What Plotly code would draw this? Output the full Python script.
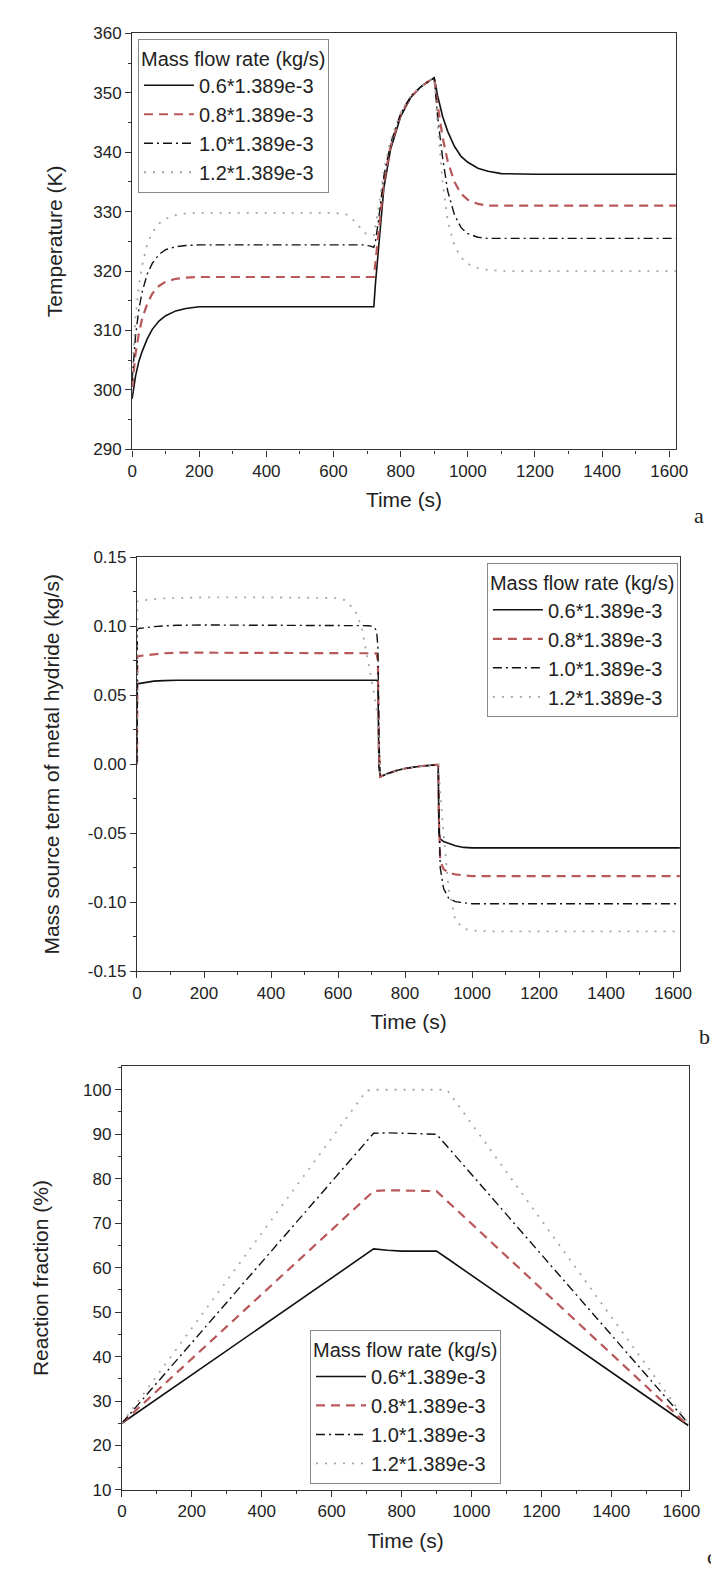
import plotly.graph_objects as go

W, H = 719, 1572

series_names = ["0.6*1.389e-3", "0.8*1.389e-3", "1.0*1.389e-3", "1.2*1.389e-3"]
legend_title = "Mass flow rate (kg/s)"

# ---------- panel a : temperature ----------
t_a = [0, 5, 10, 20, 30, 45, 60, 80, 100, 130, 160, 200, 300, 400, 500, 600, 640, 670, 690, 710,
       720, 725, 735, 750, 770, 800, 830, 860, 880, 900, 910, 925, 940, 960, 980, 1000, 1030, 1060,
       1100, 1200, 1400, 1620]
T_06 = [298.5, 300.5, 302.3, 304.8, 306.5, 308.6, 310.2, 311.6, 312.5, 313.3,
        313.7, 314.0, 314.0, 314.0, 314.0, 314.0, 314.0, 314.0, 314.0, 314.0,
        314.0, 318.0, 325.0, 334.0, 340.5, 346.0, 349.2, 351.0, 351.8, 352.5,
        349.5, 346.0, 343.5, 341.0, 339.3, 338.3, 337.3, 336.8, 336.4, 336.3, 336.3, 336.3]
T_08 = [300.5, 303.5, 306.0, 309.5, 312.0, 314.5, 316.2, 317.5, 318.2, 318.7,
        318.9, 319.0, 319.0, 319.0, 319.0, 319.0, 319.0, 319.0, 319.0, 319.0,
        319.0, 321.5, 327.0, 335.0, 341.0, 346.3, 349.3, 351.0, 351.8, 352.5,
        348.0, 342.5, 338.5, 335.0, 333.0, 332.0, 331.3, 331.0, 331.0, 331.0, 331.0, 331.0]
T_10 = [301.5, 305.5, 309.0, 313.5, 316.5, 319.5, 321.3, 322.8, 323.6, 324.1,
        324.3, 324.4, 324.4, 324.4, 324.4, 324.4, 324.4, 324.4, 324.4, 324.2,
        324.0, 325.0, 329.0, 336.0, 341.5, 346.5, 349.4, 351.0, 351.8, 352.5,
        346.0, 339.0, 333.5, 329.5, 327.3, 326.3, 325.7, 325.5, 325.5, 325.5, 325.5, 325.5]
T_12 = [303.0, 308.0, 312.0, 317.5, 321.0, 324.5, 326.5, 328.0, 328.8, 329.4,
        329.7, 329.8, 329.8, 329.8, 329.8, 329.8, 329.5, 328.0, 326.5, 326.0,
        326.0, 327.5, 331.0, 337.0, 342.0, 346.7, 349.5, 351.0, 351.8, 352.5,
        344.5, 335.0, 328.5, 324.3, 322.3, 321.2, 320.5, 320.2, 320.0, 320.0, 320.0, 320.0]

# ---------- panel b : mass source term ----------
t_b = [0, 1, 5, 20, 50, 80, 120, 200, 400, 600, 620, 650, 670, 690, 705, 715, 719, 722, 726, 735,
       750, 775, 800, 850, 899, 901, 905, 915, 930, 950, 975, 1000, 1050, 1200, 1400, 1620]
M_06 = [0.0, 0.058, 0.0585, 0.059, 0.0603, 0.0607, 0.061, 0.061, 0.061, 0.061,
        0.061, 0.061, 0.061, 0.061, 0.061, 0.061, 0.060, -0.002, -0.009, -0.008,
        -0.0065, -0.0045, -0.003, -0.0012, -0.0003, -0.050, -0.054, -0.056, -0.0575, -0.059,
        -0.0602, -0.0605, -0.0605, -0.0605, -0.0605, -0.0605]
M_08 = [0.0, 0.078, 0.0785, 0.079, 0.0800, 0.0805, 0.081, 0.081, 0.081, 0.081,
        0.081, 0.081, 0.081, 0.081, 0.081, 0.0805, 0.075, 0.010, -0.009, -0.008,
        -0.0065, -0.0045, -0.003, -0.0012, -0.0003, -0.040, -0.070, -0.076, -0.0785, -0.0798,
        -0.0805, -0.081, -0.081, -0.081, -0.081, -0.081]
M_10 = [0.0, 0.098, 0.0985, 0.099, 0.0998, 0.1003, 0.1008, 0.101, 0.101, 0.101,
        0.101, 0.101, 0.1008, 0.1005, 0.100, 0.097, 0.085, 0.020, -0.009, -0.008,
        -0.0065, -0.0045, -0.003, -0.0012, -0.0003, -0.030, -0.075, -0.090, -0.097, -0.0995,
        -0.1005, -0.101, -0.101, -0.101, -0.101, -0.101]
M_12 = [0.0, 0.118, 0.1185, 0.119, 0.1198, 0.1203, 0.1206, 0.121, 0.121, 0.1205,
        0.119, 0.112, 0.100, 0.075, 0.055, 0.040, 0.030, 0.005, -0.008, -0.008,
        -0.0065, -0.0045, -0.003, -0.0012, -0.0003, -0.010, -0.020, -0.050, -0.090, -0.113,
        -0.119, -0.1205, -0.121, -0.121, -0.121, -0.121]
b_tickvals = [-0.15, -0.10, -0.05, 0.00, 0.05, 0.10, 0.15]

# ---------- panel c : reaction fraction ----------
t_c = [0, 700, 720, 760, 800, 900, 930, 1620]
R_06 = [25.0, 63.1, 64.2, 63.9, 63.7, 63.7, 62.1, 24.5]
R_08 = [25.0, 75.8, 77.2, 77.4, 77.3, 77.2, 75.0, 24.5]
R_10 = [25.0, 88.4, 90.2, 90.3, 90.2, 90.0, 87.3, 25.0]
R_12 = [25.0, 99.8, 100.0, 100.0, 100.0, 100.0, 100.0, 25.0]

# ---------- styles ----------
styles = [
    dict(color="#111111", width=1.6, dash="solid"),
    dict(color="#b9585a", width=2.2, dash="9px,6px"),
    dict(color="#111111", width=1.4, dash="9px,4px,2px,4px"),
    dict(color="#aaa3a3", width=1.8, dash="2px,7px"),
]

FONT = "Arial, Liberation Sans, sans-serif"
TXT = "#222222"


def px_x(p):
    return p / W


def px_y(p):
    return 1 - p / H


fig = go.Figure()

panels = [
    ("x", "y", "legend", t_a, [T_06, T_08, T_10, T_12]),
    ("x2", "y2", "legend2", t_b, [M_06, M_08, M_10, M_12]),
    ("x3", "y3", "legend3", t_c, [R_06, R_08, R_10, R_12]),
]
for xa, ya, lg, tt, ys in panels:
    for name, yv, st in zip(series_names, ys, styles):
        fig.add_trace(go.Scatter(x=tt, y=yv, mode="lines", name=name, line=st,
                                 xaxis=xa, yaxis=ya, legend=lg))

# plot-area boxes in pixels: (left, right, top, bottom)
boxes = [(122, 679, 16.5, 437.7), (127, 683.3, 547, 966), (111.5, 692.7, 1062, 1491)]
xranges = [[0, 1620], [0, 1621], [0, 1623]]
yranges = [[290, 360], [-0.15, 0.15], [10, 105.3]]
ytitles = ["Temperature (K)", "Mass source term of metal hydride (kg/s)", "Reaction fraction (%)"]
ystand = [24, 22, 28]

common = dict(showgrid=False, zeroline=False, showline=True, linecolor="#333333", linewidth=1.2,
              mirror=True, ticks="outside", ticklen=6, tickwidth=1.2, tickcolor="#333333",
              tickfont=dict(family=FONT, size=17, color=TXT))

layout = dict(width=W, height=H, margin=dict(l=0, r=0, t=0, b=0),
              paper_bgcolor="white", plot_bgcolor="white",
              font=dict(family=FONT, color=TXT))

for i, (box, xr, yr, yt) in enumerate(zip(boxes, xranges, yranges, ytitles)):
    sfx = "" if i == 0 else str(i + 1)
    l, r, t, b = box
    xa = dict(common, domain=[px_x(l), px_x(r)], range=xr, anchor="y" + sfx,
              tickmode="linear", tick0=0, dtick=200,
              minor=dict(tickmode="linear", tick0=0, dtick=100, ticks="outside", ticklen=3,
                         tickwidth=1.2, tickcolor="#333333"),
              title=dict(text="Time (s)", font=dict(family=FONT, size=21, color=TXT), standoff=12))
    ya = dict(common, domain=[px_y(b), px_y(t)], range=yr, anchor="x" + sfx,
              title=dict(text=yt, font=dict(family=FONT, size=21, color=TXT), standoff=ystand[i]))
    if i == 1:
        ya.update(tickmode="array", tickvals=b_tickvals, ticktext=[f"{v:.2f}" for v in b_tickvals],
                  minor=dict(tickmode="linear", tick0=-0.15, dtick=0.025, ticks="outside", ticklen=3,
                             tickwidth=1.2, tickcolor="#333333"))
    else:
        ya.update(tickmode="linear", tick0=0, dtick=10,
                  minor=dict(tickmode="linear", tick0=0, dtick=5, ticks="outside", ticklen=3,
                             tickwidth=1.2, tickcolor="#333333"))
    layout["xaxis" + sfx] = xa
    layout["yaxis" + sfx] = ya

legend_pos = [(128, 22, "left"), (681, 553, "right"), (402, 1329, "center")]
for i, (lx, ly, anc) in enumerate(legend_pos):
    key = "legend" if i == 0 else f"legend{i + 1}"
    layout[key] = dict(x=px_x(lx), y=px_y(ly), xanchor=anc, yanchor="top",
                       bgcolor="white", bordercolor="#8a8a8a", borderwidth=1,
                       font=dict(family=FONT, size=20, color=TXT),
                       title=dict(text=legend_title, font=dict(family=FONT, size=20, color=TXT)),
                       itemwidth=50, tracegroupgap=0)

fig.update_layout(**layout)

for letter, (ax, ay) in zip(["a", "b", "c"], [(703, 505), (708, 1032), (716, 1558)]):
    fig.add_annotation(text=letter, x=px_x(ax), y=px_y(ay), xref="paper", yref="paper",
                       showarrow=False, xanchor="center", yanchor="middle",
                       font=dict(family="Liberation Serif, Times New Roman, serif", size=22, color=TXT))

fig.write_html("out.html")
